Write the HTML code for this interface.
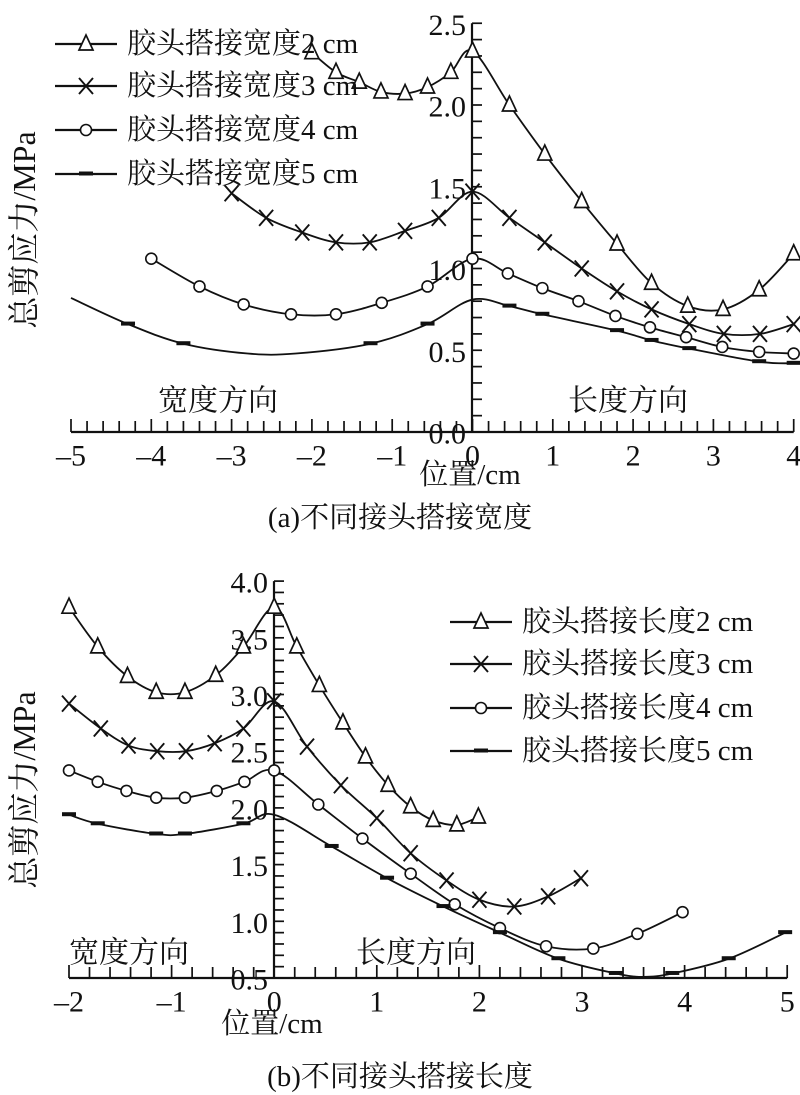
<!DOCTYPE html>
<html><head><meta charset="utf-8">
<style>
html,body{margin:0;padding:0;background:#fff;}
svg{display:block;}
text{font-family:"Liberation Serif","Noto Serif CJK SC",serif;fill:#111;}
</style></head>
<body>
<svg id="fig" width="800" height="1095" viewBox="0 0 800 1095" xmlns="http://www.w3.org/2000/svg"></svg>
<script>
// ---- Chart (a) data ----
const aLabels = ["胶头搭接宽度2 cm","胶头搭接宽度3 cm","胶头搭接宽度4 cm","胶头搭接宽度5 cm"];
const aX2 = [-2.0,-1.7,-1.41,-1.14,-0.84,-0.56,-0.27,0,0.46,0.9,1.36,1.8,2.23,2.68,3.12,3.57,4.0];
const aY2 = [2.32,2.2,2.14,2.08,2.07,2.11,2.2,2.33,2.0,1.7,1.41,1.15,0.91,0.77,0.75,0.87,1.09];
const aX3 = [-3.0,-2.57,-2.12,-1.7,-1.28,-0.84,-0.42,0,0.46,0.9,1.36,1.8,2.23,2.7,3.13,3.58,4.0];
const aY3 = [1.46,1.31,1.22,1.16,1.16,1.23,1.31,1.47,1.31,1.16,1.0,0.86,0.75,0.66,0.6,0.6,0.66];
const aX4 = [-4.0,-3.4,-2.85,-2.26,-1.7,-1.13,-0.56,0,0.44,0.87,1.32,1.78,2.21,2.66,3.11,3.57,4.0];
const aY4 = [1.06,0.89,0.78,0.72,0.72,0.79,0.89,1.06,0.97,0.88,0.8,0.71,0.64,0.58,0.52,0.49,0.48];
const aX5 = [-5.0,-4.29,-3.6,-2.8,-2.2,-1.27,-0.56,0,0.46,0.87,1.8,2.23,2.7,3.57,4.0];
const aY5 = [0.82,0.66,0.54,0.48,0.48,0.54,0.66,0.81,0.77,0.72,0.62,0.56,0.51,0.43,0.42];
const aM5 = [0,1,1,0,0,1,1,0,1,1,1,1,1,1,1];
const aXTicks = [-5,-4,-3,-2,-1,0,1,2,3,4];
const aYTicks = ["0.0","0.5","1.0","1.5","2.0","2.5"];
// ---- Chart (b) data ----
const bLabels = ["胶头搭接长度2 cm","胶头搭接长度3 cm","胶头搭接长度4 cm","胶头搭接长度5 cm"];
const bX2 = [-2.0,-1.72,-1.43,-1.15,-0.87,-0.57,-0.3,0,0.22,0.44,0.67,0.89,1.11,1.33,1.55,1.78,1.99];
const bY2 = [3.77,3.42,3.16,3.02,3.02,3.17,3.42,3.77,3.42,3.08,2.75,2.45,2.2,2.01,1.89,1.85,1.92];
const bX3 = [-2.0,-1.69,-1.42,-1.14,-0.86,-0.58,-0.3,0,0.32,0.65,1.0,1.33,1.68,2.0,2.34,2.67,2.99];
const bY3 = [2.92,2.7,2.55,2.5,2.5,2.57,2.7,2.94,2.54,2.2,1.91,1.6,1.36,1.19,1.13,1.22,1.38];
const bX4 = [-2.0,-1.72,-1.44,-1.15,-0.87,-0.56,-0.29,0,0.43,0.86,1.33,1.76,2.2,2.65,3.11,3.54,3.98];
const bY4 = [2.33,2.23,2.15,2.09,2.09,2.15,2.23,2.33,2.03,1.73,1.42,1.15,0.94,0.78,0.76,0.89,1.08];
const bX5 = [-2.0,-1.72,-1.15,-0.87,-0.3,0,0.56,1.1,1.65,2.2,2.77,3.33,3.6,3.88,4.43,4.98];
const bY5 = [1.94,1.86,1.77,1.77,1.86,1.94,1.66,1.38,1.13,0.9,0.67,0.54,0.51,0.54,0.67,0.9];
const bM5 = [1,1,1,1,1,0,1,1,1,1,1,1,0,1,1,1];
const bXTicks = [-2,-1,0,1,2,3,4,5];
const bYTicks = ["0.5","1.0","1.5","2.0","2.5","3.0","3.5","4.0"];

const NS="http://www.w3.org/2000/svg";
const svg=document.getElementById('fig');
function mk(tag,attrs,parent){const e=document.createElementNS(NS,tag);for(const k in attrs)e.setAttribute(k,attrs[k]);(parent||svg).appendChild(e);return e;}
function txt(s,x,y,size,anchor,parent){const t=mk('text',{x:x,y:y,'font-size':size,'text-anchor':anchor||'middle','dominant-baseline':'central'},parent);t.textContent=s;return t;}
function smooth(pts){let d="M"+pts[0][0]+","+pts[0][1];for(let i=0;i<pts.length-1;i++){const p0=pts[i-1]||pts[i],p1=pts[i],p2=pts[i+1],p3=pts[i+2]||p2;const c1=[p1[0]+(p2[0]-p0[0])/6,p1[1]+(p2[1]-p0[1])/6],c2=[p2[0]-(p3[0]-p1[0])/6,p2[1]-(p3[1]-p1[1])/6];d+=" C"+c1[0]+","+c1[1]+" "+c2[0]+","+c2[1]+" "+p2[0]+","+p2[1];}return d;}
function marker(type,x,y,g){
  if(type==='tri')mk('polygon',{points:`${x},${y-9} ${x-7},${y+6} ${x+7},${y+6}`,fill:'#fff',stroke:'#111','stroke-width':1.7},g);
  else if(type==='x'){mk('path',{d:`M${x-7},${y-8}L${x+7},${y+8}M${x-7},${y+8}L${x+7},${y-8}`,stroke:'#111','stroke-width':1.9,fill:'none'},g);}
  else if(type==='o')mk('circle',{cx:x,cy:y,r:5.5,fill:'#fff',stroke:'#111','stroke-width':1.6},g);
  else mk('rect',{x:x-7,y:y-2.5,width:14,height:4,fill:'#111'},g);
}
function chart(cfg){
  const g=mk('g',{});
  
  
  const X=v=>cfg.x0+(v-cfg.xmin)*cfg.xs, Y=v=>cfg.y0-(v-cfg.ymin)*cfg.ys;
  const xa=mk('g',{},g);
  
  
  mk('line',{x1:X(cfg.xmin),x2:X(cfg.xmax),y1:cfg.y0,y2:cfg.y0,stroke:'#111','stroke-width':2.2},xa);
  for(let v=cfg.xmin;v<=cfg.xmax+1e-9;v+=0.2){const major=Math.abs(v-Math.round(v))<1e-6;mk('line',{x1:X(v),x2:X(v),y1:cfg.y0,y2:cfg.y0-(major?13:11),stroke:'#111','stroke-width':1.7},xa);}
  cfg.xticks.forEach(v=>{const t=txt(v<0?"\u2013"+(-v):String(v),X(v),cfg.y0+24,30,'middle',xa);});
  const ya=mk('g',{},g);
  
  
  const ytop=parseFloat(cfg.yticks[cfg.yticks.length-1]);
  mk('line',{x1:cfg.yax,x2:cfg.yax,y1:cfg.y0,y2:Y(ytop),stroke:'#111','stroke-width':2.2},ya);
  for(let v=cfg.ymin;v<=ytop+1e-9;v+=0.1){mk('line',{x1:cfg.yax,x2:cfg.yax+10,y1:Y(v),y2:Y(v),stroke:'#111','stroke-width':1.7},ya);}
  cfg.yticks.forEach(s=>{const t=txt(s,cfg.yax-6,Y(parseFloat(s))+2,30,'end',ya);});
  cfg.series.forEach((s,i)=>{
    const sg=mk('g',{},g);
    
    
    const pts=s.x.map((v,j)=>[X(v),Y(s.y[j])]);
    mk('path',{d:smooth(pts),fill:'none',stroke:'#111','stroke-width':1.8},sg);
    pts.forEach((p,j)=>{if(!s.m||s.m[j])marker(s.t,p[0],p[1],sg);});
  });
  const lg=mk('g',{},g);
  
  
  cfg.labels.forEach((l,i)=>{
    const y=cfg.ly[i];
    const e=mk('g',{},lg);
    
    
    mk('line',{x1:cfg.lx,x2:cfg.lx+62,y1:y,y2:y,stroke:'#111','stroke-width':2.2},e);
    marker(cfg.series[i].t,cfg.lx+31,y,e);
    txt(l,cfg.lx+72,y,29,'start',e);
  });
  let t=txt("位置/cm",cfg.xtx,cfg.xty,29,'middle',g);
  t=txt("总剪应力/MPa",0,0,32,'middle',g);t.setAttribute('transform',`translate(24,${cfg.ytY}) rotate(-90)`);
  t=txt("宽度方向",cfg.a1[0],cfg.a1[1],30,'middle',g);
  t=txt("长度方向",cfg.a2[0],cfg.a2[1],30,'middle',g);
  t=txt(cfg.cap,400,cfg.capY,29,'middle',g);
}
chart({name:'chart-a',x0:71,xmin:-5,xmax:4,xs:80.3,y0:432,ymin:0,ys:163.5,yax:472,
  xticks:aXTicks,yticks:aYTicks,labels:aLabels,lx:55,ly:[44,86,130,174],
  series:[{x:aX2,y:aY2,t:'tri'},{x:aX3,y:aY3,t:'x'},{x:aX4,y:aY4,t:'o'},{x:aX5,y:aY5,t:'d',m:aM5}],
  xtx:470,xty:475,ytY:230,a1:[218,401],a2:[628,401],cap:"(a)不同接头搭接宽度",capY:518});
chart({name:'chart-b',x0:69,xmin:-2,xmax:5,xs:102.6,y0:978,ymin:0.5,ys:113.4,yax:274,
  xticks:bXTicks,yticks:bYTicks,labels:bLabels,lx:450,ly:[622,664,708,751],
  series:[{x:bX2,y:bY2,t:'tri'},{x:bX3,y:bY3,t:'x'},{x:bX4,y:bY4,t:'o'},{x:bX5,y:bY5,t:'d',m:bM5}],
  xtx:272,xty:1024,ytY:790,a1:[129,953],a2:[416,953],cap:"(b)不同接头搭接长度",capY:1077});
</script>
</body></html>
